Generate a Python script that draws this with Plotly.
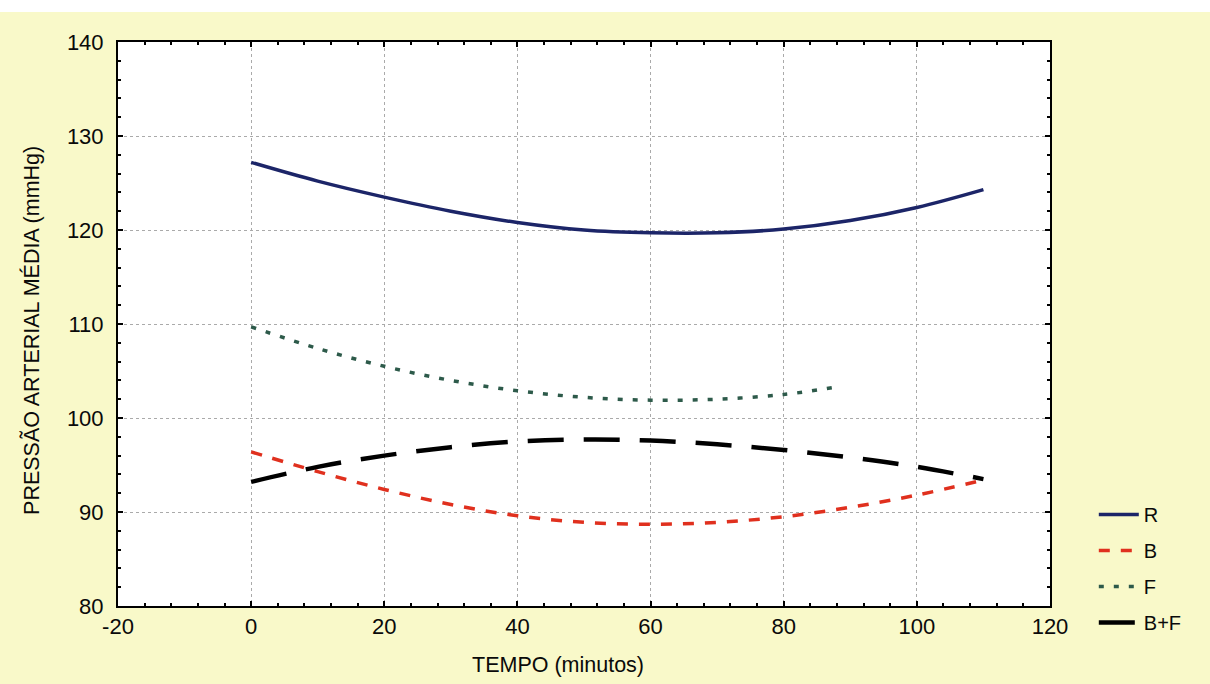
import plotly.graph_objects as go

# Data
t_full = [0, 10, 20, 30, 40, 50, 60, 70, 80, 90, 100, 110]
R = [127.2, 125.2, 123.5, 122.0, 120.8, 120.0, 119.7, 119.7, 120.1, 121.0, 122.4, 124.3]
B = [96.4, 94.3, 92.4, 90.8, 89.6, 88.9, 88.7, 88.9, 89.5, 90.5, 91.8, 93.4]
t_F = [0, 10, 20, 30, 40, 50, 60, 70, 80, 88]
F = [109.7, 107.4, 105.5, 104.0, 102.9, 102.2, 101.9, 102.0, 102.5, 103.3]
BF = [93.2, 94.8, 96.0, 96.9, 97.5, 97.7, 97.6, 97.2, 96.6, 95.8, 94.8, 93.5]

x_ticks = [-20, 0, 20, 40, 60, 80, 100, 120]
y_ticks = [80, 90, 100, 110, 120, 130, 140]
x_title = "TEMPO (minutos)"
y_title = "PRESSÃO ARTERIAL MÉDIA (mmHg)"

font = "Liberation Sans, Arial, sans-serif"
bg = "#f9f9c9"
txt = "#0a0a0a"

fig = go.Figure()
fig.add_trace(go.Scatter(x=t_full, y=R, name="R", mode="lines", legendgroup="R",
                         line=dict(color="#1c2568", width=3.5, shape="spline")))
fig.add_trace(go.Scatter(x=t_full, y=B, name="B", mode="lines", legendgroup="B",
                         line=dict(color="#e0301e", width=3.5, shape="spline", dash="11px,11px")))
fig.add_trace(go.Scatter(x=t_F, y=F, name="F", mode="lines", legendgroup="F",
                         line=dict(color="#2d5a4a", width=3.5, shape="spline", dash="5px,10px")))
fig.add_trace(go.Scatter(x=t_full, y=BF, name="B+F", mode="lines", legendgroup="BF",
                         line=dict(color="#000000", width=4.5, shape="spline", dash="36px,20px")))

axis_common = dict(
    showline=True, linecolor="black", linewidth=2, mirror="ticks",
    ticks="inside", ticklen=5, tickwidth=1.5, tickcolor="black",
    showgrid=True, gridcolor="#aaaaaa", griddash="dot", gridwidth=1,
    zeroline=False,
    tickfont=dict(family=font, size=22, color=txt),
)

fig.update_xaxes(range=[-20, 120], tickvals=x_ticks, ticktext=[str(v) for v in x_ticks],
                 minor=dict(dtick=4, tick0=0, ticks="inside", ticklen=3, tickcolor="black", showgrid=False),
                 **axis_common)
fig.update_yaxes(range=[80, 140], tickvals=y_ticks, ticktext=[str(v) for v in y_ticks],
                 minor=dict(dtick=2, tick0=80, ticks="inside", ticklen=3, tickcolor="black", showgrid=False),
                 ticklabelstandoff=8,
                 **axis_common)

fig.update_layout(
    width=1210, height=684,
    margin=dict(l=118, r=160, t=42, b=78),
    paper_bgcolor=bg, plot_bgcolor="white",
    showlegend=True,
    legend=dict(x=1.047, y=0.197, xanchor="left", yanchor="top",
                bgcolor="rgba(0,0,0,0)", font=dict(family=font, size=20, color=txt),
                tracegroupgap=7, itemwidth=40),
    annotations=[
        dict(text=x_title, xref="paper", yref="paper", x=0.4716, y=-0.1046,
             xanchor="center", yanchor="middle", showarrow=False,
             font=dict(family=font, size=21.5, color=txt)),
        dict(text=y_title, xref="paper", yref="paper", x=-0.0923, y=0.4894,
             xanchor="center", yanchor="middle", showarrow=False, textangle=-90,
             font=dict(family=font, size=21.5, color=txt)),
    ],
    shapes=[dict(type="rect", xref="paper", yref="paper", x0=-0.2, x1=1.2,
                 y0=1 + 30 / 564, y1=1.2, fillcolor="white", line=dict(width=0), layer="below")],
)

fig.write_html("out.html")
